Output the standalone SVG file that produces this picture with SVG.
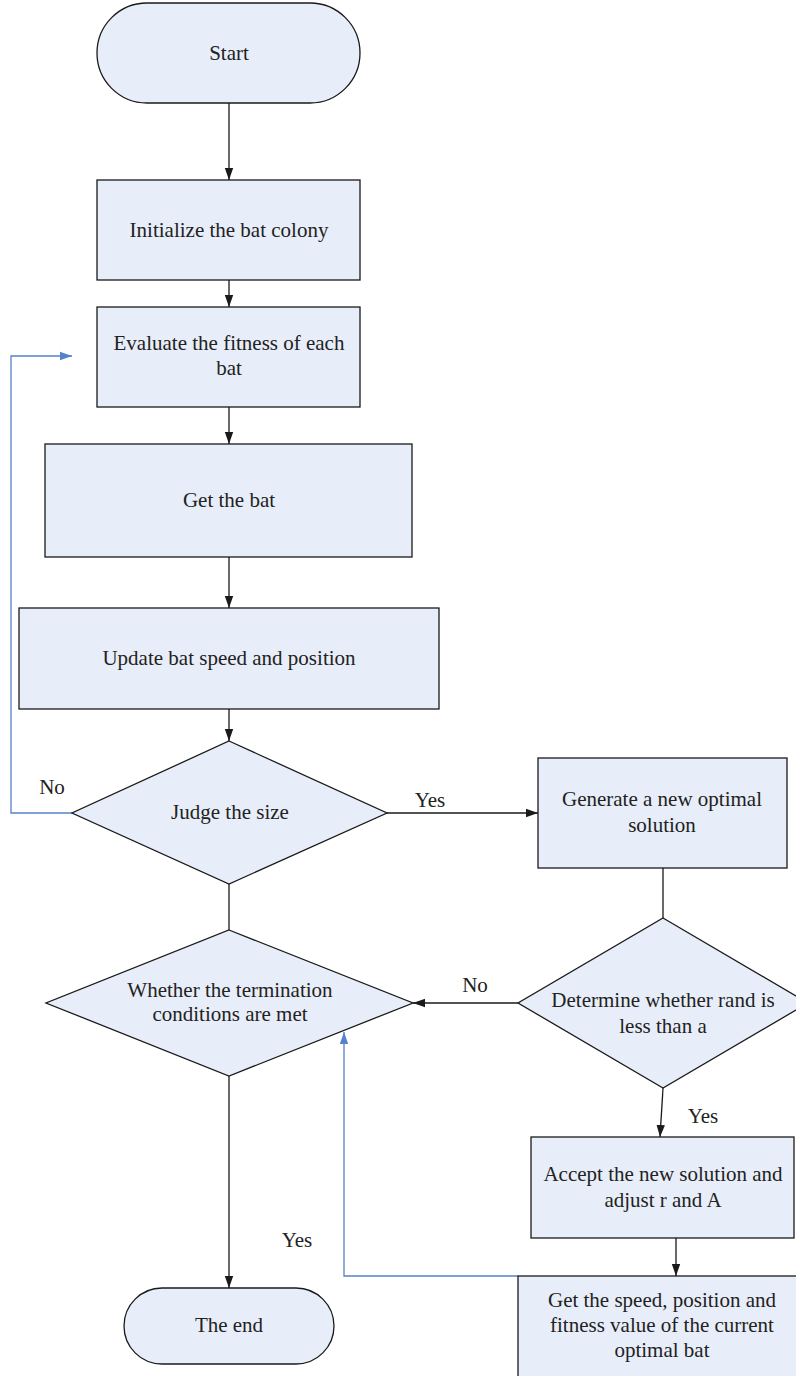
<svg xmlns="http://www.w3.org/2000/svg" width="796" height="1376" viewBox="0 0 796 1376">
<defs>
<marker id="ab" viewBox="0 0 12 10" refX="12" refY="5" markerWidth="12" markerHeight="10" markerUnits="userSpaceOnUse" orient="auto"><path d="M0,0.8 L12,5 L0,9.2 z" fill="#1a1a1a"/></marker>
<marker id="au" viewBox="0 0 12 10" refX="12" refY="5" markerWidth="12" markerHeight="10" markerUnits="userSpaceOnUse" orient="auto"><path d="M0,0.8 L12,5 L0,9.2 z" fill="#5582c8"/></marker>
<style>
.n{fill:#e8eef9;stroke:#1a1a1a;stroke-width:1.3}
.t{font-family:"Liberation Serif","DejaVu Serif",serif;font-size:21px;fill:#222;text-anchor:middle}
.c{fill:none;stroke:#1a1a1a;stroke-width:1.3}
.b{fill:none;stroke:#5582c8;stroke-width:1.3}
</style>
</defs>
<g id="connectors">
<line class="c" x1="229" y1="103" x2="229" y2="180" marker-end="url(#ab)"/>
<line class="c" x1="229" y1="280" x2="229" y2="307" marker-end="url(#ab)"/>
<line class="c" x1="229" y1="407" x2="229" y2="444" marker-end="url(#ab)"/>
<line class="c" x1="229" y1="557" x2="229" y2="608" marker-end="url(#ab)"/>
<line class="c" x1="229" y1="709" x2="229" y2="741" marker-end="url(#ab)"/>
<line class="c" x1="229" y1="884" x2="229" y2="930"/>
<line class="c" x1="387" y1="813" x2="538" y2="813" marker-end="url(#ab)"/>
<polyline class="b" points="72,813 11,813 11,356 72,356" marker-end="url(#au)"/>
<line class="c" x1="663" y1="868" x2="663" y2="918"/>
<line class="c" x1="518" y1="1003" x2="413" y2="1003" marker-end="url(#ab)"/>
<line class="c" x1="663" y1="1088" x2="660" y2="1137" marker-end="url(#ab)"/>
<line class="c" x1="676" y1="1238" x2="676" y2="1276" marker-end="url(#ab)"/>
<polyline class="b" points="518,1276 344,1276 344,1032" marker-end="url(#au)"/>
<line class="c" x1="229" y1="1076" x2="229" y2="1288" marker-end="url(#ab)"/>
<text class="t" x="52" y="794">No</text>
<text class="t" x="430" y="807">Yes</text>
<text class="t" x="475" y="992">No</text>
<text class="t" x="703" y="1123">Yes</text>
<text class="t" x="297" y="1247">Yes</text>
</g>
<g id="start"><rect class="n" x="97" y="3" width="263" height="100" rx="50" ry="50"/><text class="t" x="229" y="60">Start</text></g>
<g id="init"><rect class="n" x="97" y="180" width="263" height="100"/><text class="t" x="229" y="237">Initialize the bat colony</text></g>
<g id="evaluate"><rect class="n" x="97" y="307" width="263" height="100"/><text class="t" x="229" y="350">Evaluate the fitness of each</text><text class="t" x="229" y="375">bat</text></g>
<g id="getbat"><rect class="n" x="45" y="444" width="367" height="113"/><text class="t" x="229" y="507">Get the bat</text></g>
<g id="update"><rect class="n" x="19" y="608" width="420" height="101"/><text class="t" x="229" y="665">Update bat speed and position</text></g>
<g id="judge"><polygon class="n" points="229,741 387,813 229,884 72,813"/><text class="t" x="230" y="819">Judge the size</text></g>
<g id="generate"><rect class="n" x="538" y="758" width="249" height="110"/><text class="t" x="662" y="806">Generate a new optimal</text><text class="t" x="662" y="832">solution</text></g>
<g id="determine"><polygon class="n" points="663,918 808,1003 663,1088 518,1003"/><text class="t" x="663" y="1007">Determine whether rand is</text><text class="t" x="663" y="1033">less than a</text></g>
<g id="whether"><polygon class="n" points="229,930 413,1003 229,1076 46,1003"/><text class="t" x="230" y="997">Whether the termination</text><text class="t" x="230" y="1021">conditions are met</text></g>
<g id="accept"><rect class="n" x="531" y="1137" width="263" height="101"/><text class="t" x="663" y="1181">Accept the new solution and</text><text class="t" x="663" y="1207">adjust r and A</text></g>
<g id="getspeed"><rect class="n" x="518" y="1276" width="290" height="110"/><text class="t" x="662" y="1307">Get the speed, position and</text><text class="t" x="662" y="1332">fitness value of the current</text><text class="t" x="662" y="1357">optimal bat</text></g>
<g id="end"><rect class="n" x="124" y="1288" width="210" height="76" rx="38" ry="38"/><text class="t" x="229" y="1332">The end</text></g>
</svg>
